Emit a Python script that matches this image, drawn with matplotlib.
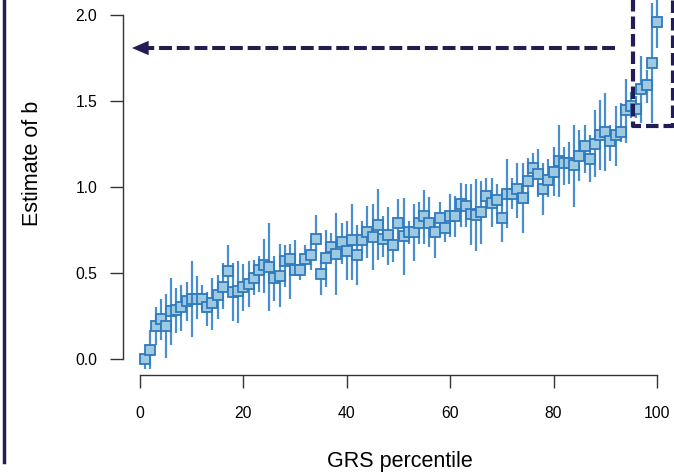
import matplotlib
matplotlib.use('Agg')
import matplotlib.pyplot as plt
from matplotlib.lines import Line2D
import numpy as np

plt.rcParams['font.family'] = ['Liberation Sans', 'DejaVu Sans']

# GRS percentile 1..100, estimate of b with lower / upper interval
percentile = np.arange(1, 101)
estimate = [
    0.00, 0.05, 0.19, 0.23, 0.19, 0.28, 0.285, 0.30, 0.34, 0.35,
    0.35, 0.35, 0.30, 0.325, 0.37, 0.42, 0.51, 0.39, 0.395, 0.42,
    0.435, 0.47, 0.52, 0.545, 0.535, 0.47, 0.48, 0.57, 0.58, 0.52,
    0.515, 0.58, 0.605, 0.70, 0.495, 0.585, 0.65, 0.61, 0.68, 0.63,
    0.69, 0.605, 0.69, 0.74, 0.71, 0.78, 0.70, 0.72, 0.66, 0.79,
    0.715, 0.74, 0.74, 0.79, 0.83, 0.79, 0.74, 0.82, 0.76, 0.83,
    0.83, 0.90, 0.89, 0.845, 0.84, 0.855, 0.95, 0.905, 0.925, 0.82,
    0.96, 0.96, 0.99, 0.935, 1.035, 1.11, 1.075, 0.99, 1.04, 1.085,
    1.15, 1.14, 1.14, 1.125, 1.18, 1.24, 1.165, 1.25, 1.30, 1.32,
    1.27, 1.30, 1.32, 1.445, 1.47, 1.455, 1.57, 1.59, 1.72, 1.96,
]
lower = [
    -0.06, -0.06, 0.08, 0.11, 0.005, 0.08, 0.15, 0.16, 0.22, 0.13,
    0.23, 0.285, 0.19, 0.17, 0.23, 0.29, 0.42, 0.22, 0.21, 0.28,
    0.30, 0.37, 0.39, 0.385, 0.28, 0.34, 0.30, 0.42, 0.35, 0.48,
    0.46, 0.50, 0.52, 0.63, 0.37, 0.42, 0.57, 0.37, 0.555, 0.46,
    0.46, 0.43, 0.61, 0.59, 0.52, 0.575, 0.595, 0.545, 0.565, 0.635,
    0.49, 0.67, 0.57, 0.67, 0.67, 0.65, 0.59, 0.71, 0.68, 0.71,
    0.71, 0.77, 0.77, 0.66, 0.63, 0.67, 0.87, 0.765, 0.83, 0.68,
    0.76, 0.87, 0.82, 0.73, 0.90, 1.035, 0.94, 0.84, 0.94, 0.95,
    0.94, 1.01, 1.02, 0.885, 1.035, 1.08, 1.03, 1.06, 1.10, 1.095,
    1.15, 1.12, 1.26, 1.255, 1.40, 1.40, 1.37, 1.49, 1.37, 1.81,
]
upper = [
    0.03, 0.17, 0.30, 0.35, 0.38, 0.47, 0.41, 0.43, 0.45, 0.57,
    0.48, 0.43, 0.39, 0.47, 0.49, 0.56, 0.66, 0.56, 0.57, 0.55,
    0.57, 0.575, 0.60, 0.70, 0.79, 0.60, 0.67, 0.66, 0.67, 0.69,
    0.575, 0.66, 0.69, 0.84, 0.575, 0.75, 0.73, 0.85, 0.79, 0.80,
    0.90, 0.78, 0.80, 0.89, 0.90, 0.99, 0.83, 0.885, 0.75, 0.93,
    0.935, 0.80, 0.90, 0.91, 0.98, 0.94, 0.785, 0.91, 0.82, 0.96,
    0.95, 1.025, 1.02, 1.02, 1.045, 1.035, 1.05, 1.05, 1.02, 0.97,
    1.16, 1.05, 1.14, 1.14, 1.17, 1.195, 1.22, 1.14, 1.16, 1.23,
    1.36, 1.23, 1.26, 1.36, 1.33, 1.36, 1.30, 1.45, 1.505, 1.545,
    1.36, 1.47, 1.49, 1.63, 1.55, 1.53, 1.76, 1.68, 2.07, 2.25,
]

# highlighted region: arrow level and box around top percentiles
arrow_level = 1.808
arrow_from = 91.9
box_left, box_right, box_bottom = 95.4, 103.1, 1.355

navy = '#231d55'
bar_color = '#4a8fcd'
fill_color = '#9ecae1'
edge_color = '#2f7abd'

fig = plt.figure(figsize=(6.74, 4.76), dpi=100)
ax = fig.add_axes([123 / 674, 101 / 476, 551 / 674, 375 / 476])
ax.set_xlim(-3.29, 103.3)
ax.set_ylim(-0.093, 2.087)

ax.vlines(percentile, lower, upper, color=bar_color, lw=1.6, zorder=2)
ax.plot(percentile, estimate, 's', ms=6.7, mfc=fill_color, mec=edge_color,
        mew=1.3, zorder=3)

# dashed arrow pointing to the y axis
ax.plot([arrow_from, 1.4], [arrow_level, arrow_level], color=navy, lw=2.9,
        linestyle=(0, (3.2, 1.2)), solid_capstyle='butt', zorder=4)
ax.annotate('', xy=(-1.55, arrow_level), xytext=(1.6, arrow_level),
            arrowprops=dict(arrowstyle='-|>,head_length=1.2,head_width=0.52',
                            color=navy, lw=0, mutation_scale=10,
                            shrinkA=0, shrinkB=0), zorder=4)

# dashed box around the top percentiles
ax.plot([box_left, box_left, box_right, box_right],
        [2.4, box_bottom, box_bottom, 2.4], color=navy, lw=3.0,
        linestyle=(0, (3.0, 1.2)), clip_on=False, zorder=5)

# R-like axes
for side in ['top', 'right']:
    ax.spines[side].set_visible(False)
ax.spines['left'].set_bounds(0, 2)
ax.spines['bottom'].set_bounds(0, 100)
for side in ['left', 'bottom']:
    ax.spines[side].set_color('#333333')
    ax.spines[side].set_linewidth(1.0)

ax.set_xticks([0, 20, 40, 60, 80, 100])
ax.set_yticks([0.0, 0.5, 1.0, 1.5, 2.0])
ax.set_yticklabels(['0.0', '0.5', '1.0', '1.5', '2.0'])
ax.tick_params(axis='both', direction='out', length=9.5, width=1.0,
               color='#333333', labelsize=11.3)
ax.tick_params(axis='y', pad=9)
ax.tick_params(axis='x', pad=13)

fig.text(400 / 674, 1 - 462 / 476, 'GRS percentile', ha='center', va='center',
         fontsize=15.5)
fig.text(33 / 674, 1 - 163 / 476, 'Estimate of b', ha='center', va='center',
         rotation=90, fontsize=15.5)

# navy bracket line on the left edge
fig.add_artist(Line2D([4 / 674, 4 / 674], [1.0, 1 - 462 / 476],
                      transform=fig.transFigure, color=navy, lw=2.5))

fig.savefig('out.png', dpi=100)
